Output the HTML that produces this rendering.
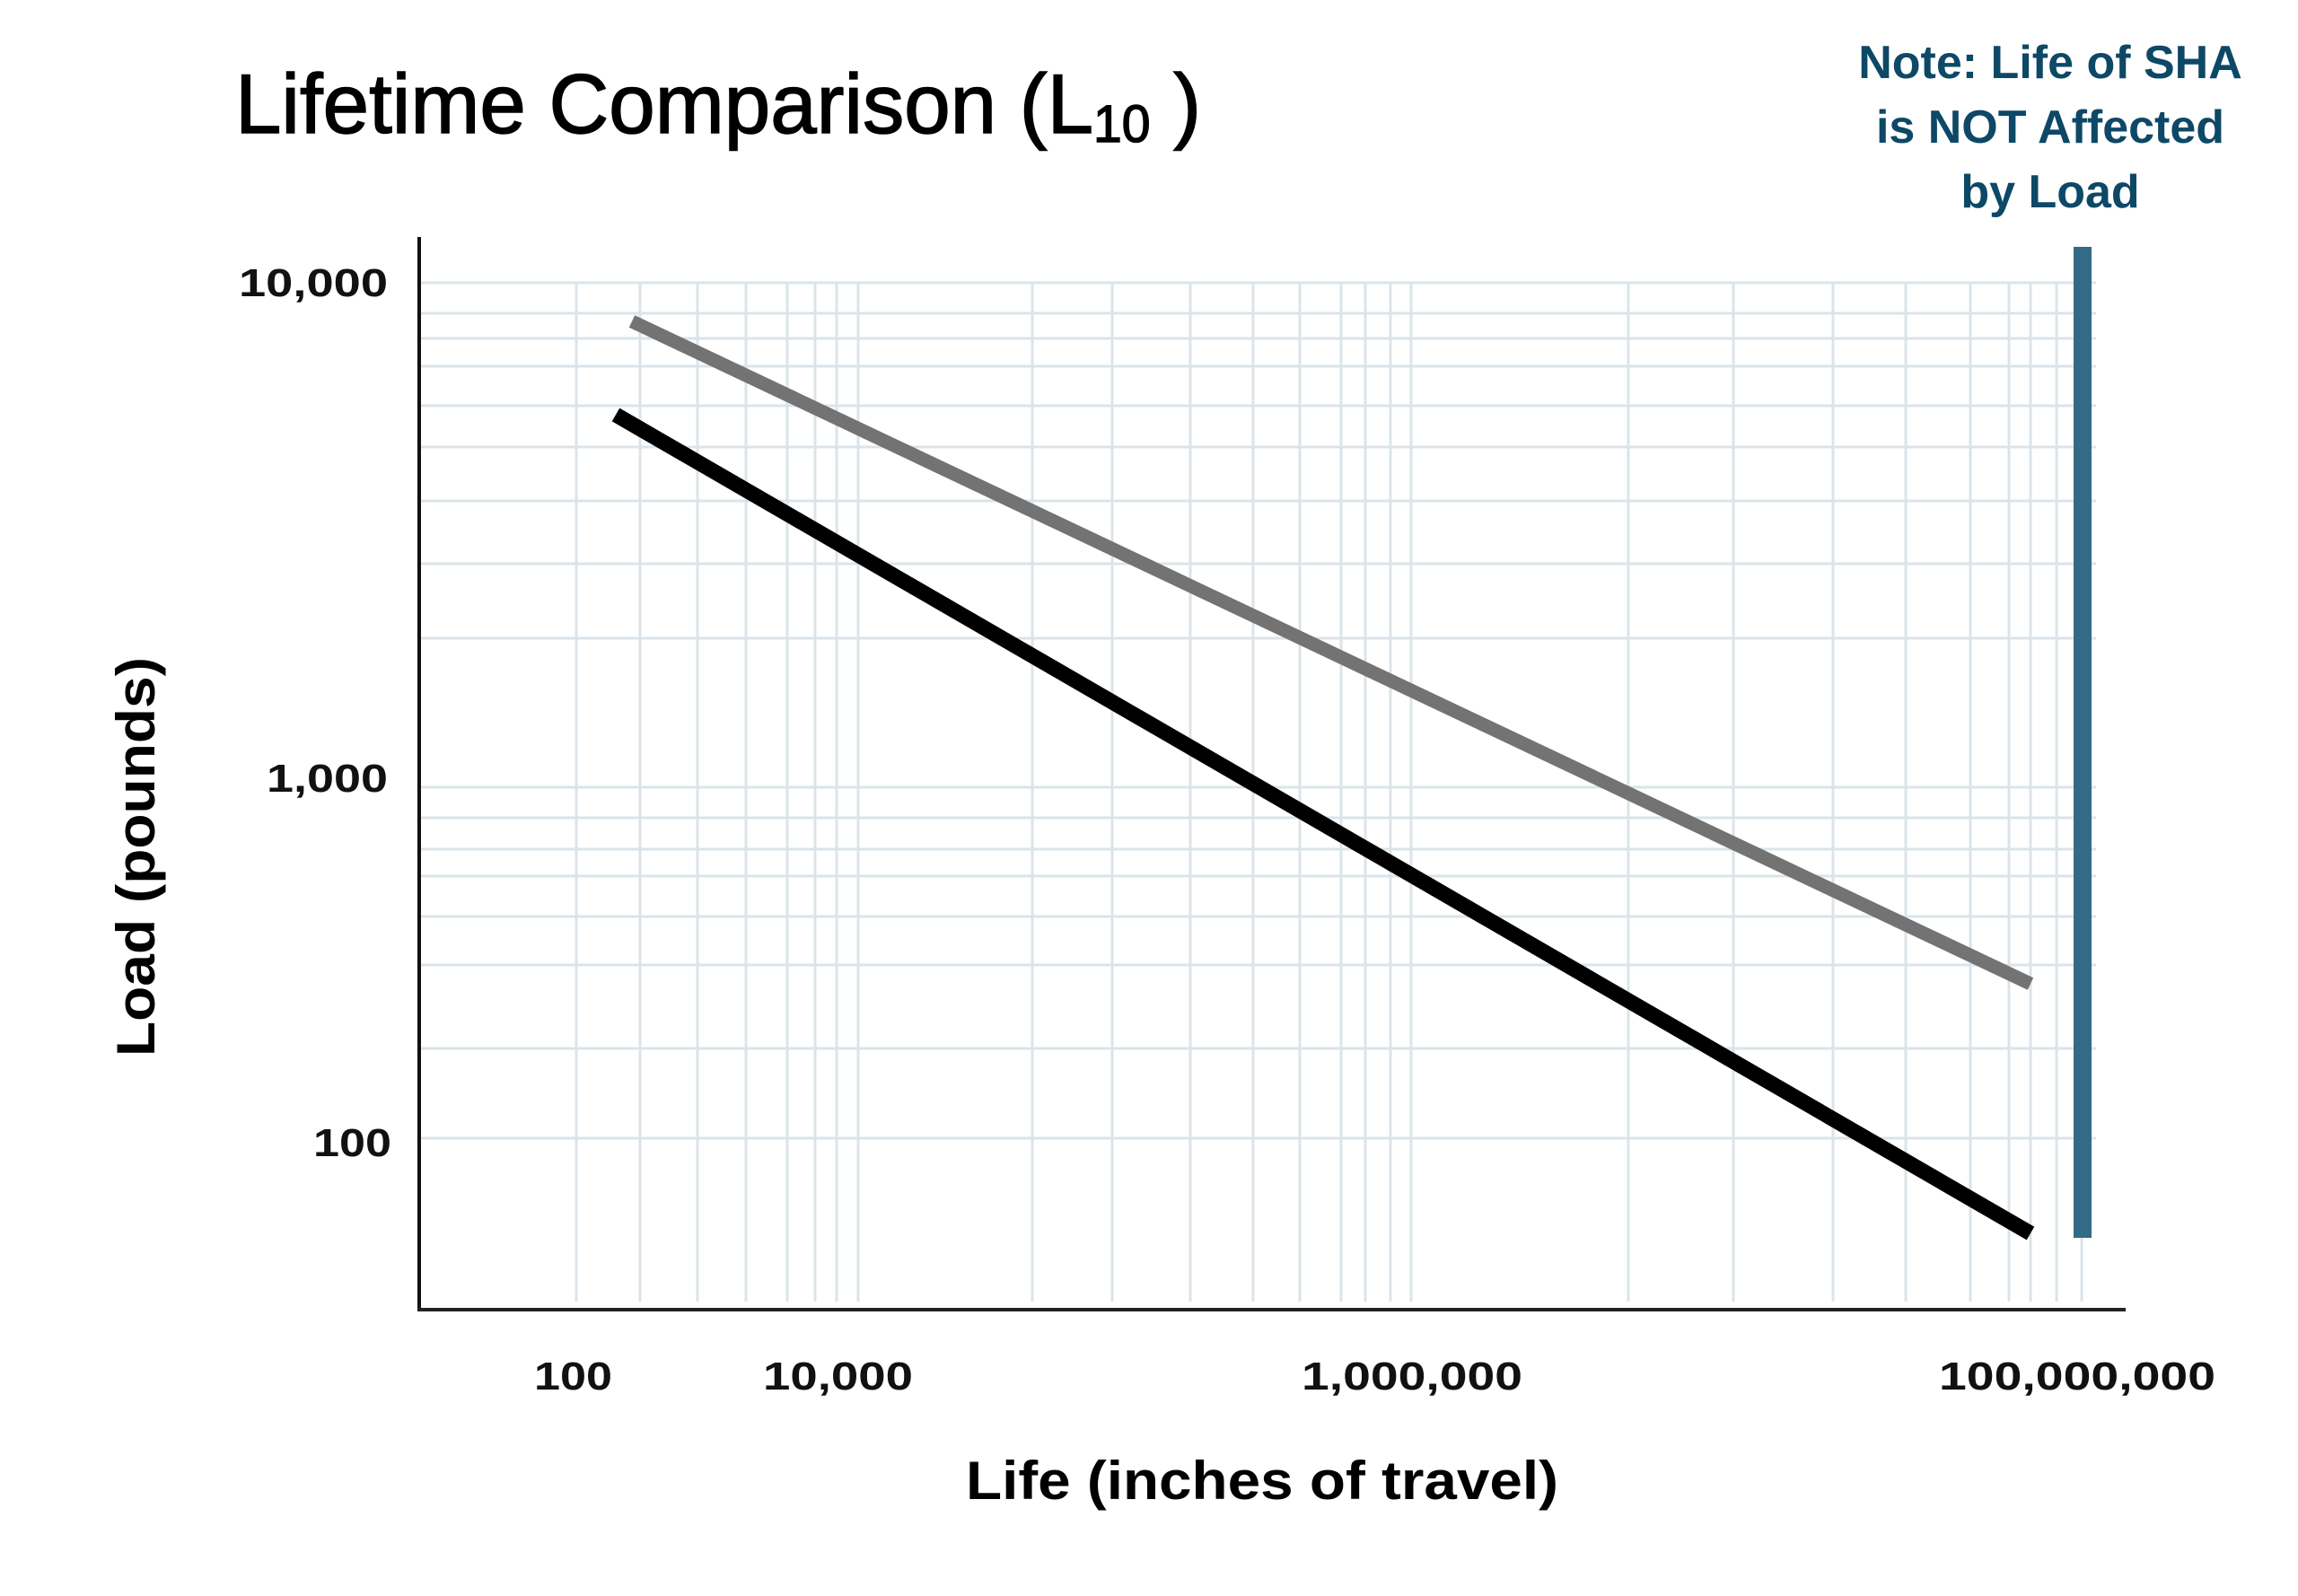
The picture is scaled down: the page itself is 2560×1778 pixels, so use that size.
<!DOCTYPE html>
<html><head><meta charset="utf-8"><style>
html,body{margin:0;padding:0;background:#fff;}
svg{display:block;}
text{font-family:"Liberation Sans",sans-serif;}
</style></head><body>
<svg width="2560" height="1778" viewBox="0 0 2560 1778" xmlns="http://www.w3.org/2000/svg">
<rect width="2560" height="1778" fill="#fff"/>
<g stroke="#dbe4ea" stroke-width="3">
<line x1="467" y1="315" x2="2335" y2="315"/>
<line x1="467" y1="349" x2="2335" y2="349"/>
<line x1="467" y1="377" x2="2335" y2="377"/>
<line x1="467" y1="408" x2="2335" y2="408"/>
<line x1="467" y1="452" x2="2335" y2="452"/>
<line x1="467" y1="498" x2="2335" y2="498"/>
<line x1="467" y1="558" x2="2335" y2="558"/>
<line x1="467" y1="628" x2="2335" y2="628"/>
<line x1="467" y1="711" x2="2335" y2="711"/>
<line x1="467" y1="877" x2="2335" y2="877"/>
<line x1="467" y1="911" x2="2335" y2="911"/>
<line x1="467" y1="946" x2="2335" y2="946"/>
<line x1="467" y1="976" x2="2335" y2="976"/>
<line x1="467" y1="1021" x2="2335" y2="1021"/>
<line x1="467" y1="1075" x2="2335" y2="1075"/>
<line x1="467" y1="1168" x2="2335" y2="1168"/>
<line x1="467" y1="1268" x2="2335" y2="1268"/>
</g>
<g stroke="#dbe4ea" stroke-width="3">
<line x1="642" y1="315" x2="642" y2="1450"/><line x1="713" y1="315" x2="713" y2="1450"/>
<line x1="777" y1="315" x2="777" y2="1450"/><line x1="831" y1="315" x2="831" y2="1450"/>
<line x1="877" y1="315" x2="877" y2="1450"/><line x1="908" y1="315" x2="908" y2="1450"/>
<line x1="932" y1="315" x2="932" y2="1450"/><line x1="956" y1="315" x2="956" y2="1450"/>
<line x1="1150" y1="315" x2="1150" y2="1450"/><line x1="1239" y1="315" x2="1239" y2="1450"/>
<line x1="1326" y1="315" x2="1326" y2="1450"/><line x1="1396" y1="315" x2="1396" y2="1450"/>
<line x1="1448" y1="315" x2="1448" y2="1450"/><line x1="1494" y1="315" x2="1494" y2="1450"/>
<line x1="1521" y1="315" x2="1521" y2="1450"/><line x1="1549" y1="315" x2="1549" y2="1450"/>
<line x1="1572" y1="315" x2="1572" y2="1450"/><line x1="1814" y1="315" x2="1814" y2="1450"/>
<line x1="1931" y1="315" x2="1931" y2="1450"/><line x1="2042" y1="315" x2="2042" y2="1450"/>
<line x1="2123" y1="315" x2="2123" y2="1450"/><line x1="2195" y1="315" x2="2195" y2="1450"/>
<line x1="2238" y1="315" x2="2238" y2="1450"/><line x1="2262" y1="315" x2="2262" y2="1450"/>
<line x1="2291" y1="315" x2="2291" y2="1450"/><line x1="2319" y1="315" x2="2319" y2="1450"/>
</g>
<line x1="467" y1="264" x2="467" y2="1461" stroke="#111" stroke-width="4"/>
<line x1="465" y1="1459" x2="2368" y2="1459" stroke="#222" stroke-width="4"/>
<line x1="704" y1="358" x2="2262" y2="1096" stroke="#737373" stroke-width="15"/>
<line x1="686" y1="462" x2="2262" y2="1374" stroke="#000" stroke-width="17"/>
<rect x="2310" y="275" width="20" height="1104" fill="#336a85"/>
<text x="262" y="148" font-size="94" fill="#000" stroke="#000" stroke-width="1.5" textLength="1076" lengthAdjust="spacingAndGlyphs">Lifetime Comparison (L<tspan font-size="58" dy="10">10</tspan><tspan dy="-10"> )</tspan></text>
<g font-weight="bold" fill="#0d4866" font-size="52" text-anchor="middle">
<text x="2284" y="87">Note: Life of SHA</text>
<text x="2284" y="159">is NOT Affected</text>
<text x="2284" y="231">by Load</text>
</g>
<g font-weight="bold" font-size="44" fill="#111">
<text x="266" y="330" textLength="166" lengthAdjust="spacingAndGlyphs">10,000</text>
<text x="297" y="882" textLength="135" lengthAdjust="spacingAndGlyphs">1,000</text>
<text x="349" y="1288" textLength="87" lengthAdjust="spacingAndGlyphs">100</text>
<text x="595" y="1548" textLength="87" lengthAdjust="spacingAndGlyphs">100</text>
<text x="850" y="1548" textLength="167" lengthAdjust="spacingAndGlyphs">10,000</text>
<text x="1450" y="1548" textLength="246" lengthAdjust="spacingAndGlyphs">1,000,000</text>
<text x="2160" y="1548" textLength="308" lengthAdjust="spacingAndGlyphs">100,000,000</text>
</g>
<text x="1076" y="1670" font-size="60" font-weight="bold" fill="#000" textLength="660" lengthAdjust="spacingAndGlyphs">Life (inches of travel)</text>
<text transform="translate(172,955) rotate(-90)" x="-222" y="0" font-size="60" font-weight="bold" fill="#000" textLength="445" lengthAdjust="spacingAndGlyphs">Load (pounds)</text>
</svg>
</body></html>
